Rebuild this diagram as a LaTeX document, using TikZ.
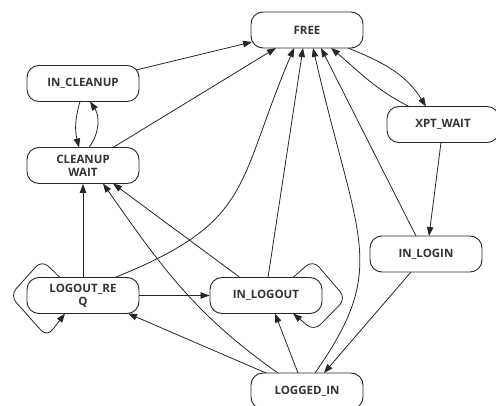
\documentclass[tikz,border=0pt]{standalone}
\usepackage{fontspec}
\setmainfont{Open Sans}
\usetikzlibrary{arrows.meta}
\begin{document}
\begin{tikzpicture}[x=1pt,y=1pt,
  state/.style={draw=black!85, line width=0.9pt, rounded corners=12pt,
    minimum width=112pt, minimum height=36pt, inner sep=0pt, align=center,
    font=\fontsize{11.5}{13.3}\selectfont\bfseries, text=black!80},
  link/.style={draw=black!85, line width=0.8pt,
    -{Triangle[length=9pt,width=6.5pt]}},
  selfloop/.style={link, rounded corners=9pt}]
\useasboundingbox (0,0) rectangle (496,405);

% states
\node[state] (free)     at (307,375)   {FREE};
\node[state] (incl)     at (83,321.5)  {IN\_CLEANUP};
\node[state] (clw)      at (83,239.5)  {CLEANUP\\WAIT};
\node[state] (xpt)      at (443,280.5) {XPT\_WAIT};
\node[state] (inlogin)  at (426,151)   {IN\_LOGIN};
\node[state] (lreq)     at (83,109.5)  {LOGOUT\_RE\\Q};
\node[state] (inlogout) at (266,109.5) {IN\_LOGOUT};
\node[state] (loggedin) at (307,14)    {LOGGED\_IN};

% cleanup branch
\draw[link] ([shift={(53,13.5)}]incl.center) -- ([shift={(-55,-12)}]free.center);
\draw[link] ([shift={(30,18)}]clw.center) -- ([shift={(-31,-18)}]free.center);
\draw[link] ([shift={(-3,-18)}]incl.center) to[bend right=15] ([shift={(-4,18)}]clw.center);
\draw[link] ([shift={(6,18)}]clw.center) to[bend right=35] ([shift={(7,-18)}]incl.center);
\draw[link] (lreq.north) -- (clw.south);

% logout request
\draw[selfloop] ([shift={(-23,18)}]lreq.center) -- ([shift={(-41,35.5)}]lreq.center)
  -- ([shift={(-73,0)}]lreq.center) -- ([shift={(-36,-41.5)}]lreq.center)
  -- ([shift={(-18,-18)}]lreq.center);
\draw[link] (lreq.east) -- (inlogout.west);
\draw[link] ([shift={(32,18)}]lreq.center) .. controls +(22:150) and +(247:150)
  .. ([shift={(-13,-18)}]free.center);

% logged in
\draw[link] ([shift={(-29,18)}]loggedin.center) to[out=145,in=-55] ([shift={(20,-18)}]clw.center);
\draw[link] ([shift={(8,18)}]loggedin.center) .. controls +(55:130) and +(283:200)
  .. ([shift={(6,-18)}]free.center);
\draw[link] ([shift={(-9,18)}]loggedin.center) -- ([shift={(9,-18)}]inlogout.center);
\draw[link] ([shift={(-41,18)}]loggedin.center) -- ([shift={(45,-18)}]lreq.center);

% in logout
\draw[link] ([shift={(-26,18)}]inlogout.center) -- ([shift={(30,-18)}]clw.center);
\draw[link] ([shift={(2,18)}]inlogout.center) -- ([shift={(-4,-18)}]free.center);
\draw[selfloop] ([shift={(27,18)}]inlogout.center) -- ([shift={(47,35.5)}]inlogout.center)
  -- ([shift={(80,-3)}]inlogout.center) -- ([shift={(48,-35.5)}]inlogout.center)
  -- ([shift={(27,-18)}]inlogout.center);

% login path
\draw[link] ([shift={(-10,18)}]inlogin.center) -- ([shift={(14,-18)}]free.center);
\draw[link] ([shift={(-15,-18)}]inlogin.center) -- ([shift={(17,18)}]loggedin.center);
\draw[link] ([shift={(-2,-18)}]xpt.center) -- ([shift={(3,18)}]inlogin.center);
\draw[link] ([shift={(41,-18)}]free.center) to[out=-22,in=122] ([shift={(-17,18)}]xpt.center);
\draw[link] ([shift={(-34,18)}]xpt.center) to[out=153,in=-40] ([shift={(24,-18)}]free.center);
\end{tikzpicture}
\end{document}
